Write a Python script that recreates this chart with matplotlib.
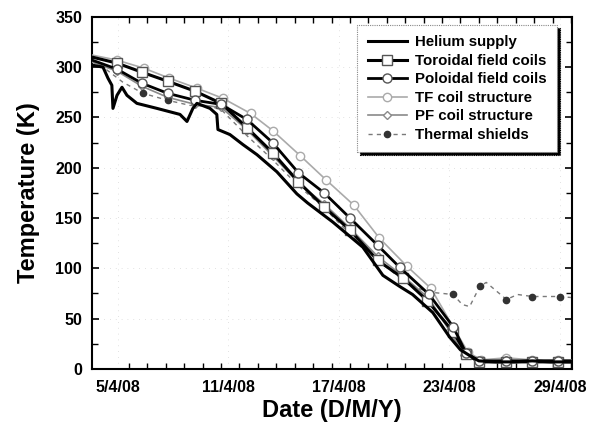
import numpy as np
import matplotlib
matplotlib.use("Agg")
import matplotlib.pyplot as plt

plt.rcParams['font.family'] = ['Liberation Sans', 'DejaVu Sans']
plt.rcParams['font.weight'] = 'bold'

# days are April 2008 day-of-month
he_day = [3.6, 4.19, 4.46, 4.67, 4.73, 4.95, 5.22, 5.49, 6.03, 7.12, 8.37, 8.75, 9.07, 9.29,
          10.0, 10.37, 10.43, 11.08, 11.79, 12.55, 13.63, 14.72, 15.3, 16.67, 18.3, 19.39,
          20.3, 21.0, 22.1, 23.0, 23.6, 24.3, 24.6, 25.5, 26.5, 27.5, 28.5, 29.6]
he_temp = [302, 300, 289, 282, 259, 272, 280, 272, 264, 259, 253, 246, 259, 264,
           259, 253, 238, 233, 223, 213, 196, 174, 165, 146, 121, 93,
           82, 74, 56, 32, 19, 11, 8, 7, 7, 8, 7, 7]

tfc_day = [3.6, 4.95, 6.3, 7.7, 9.2, 10.6, 12.0, 13.4, 14.8, 16.2, 17.6, 19.1, 20.5, 21.8,
           23.2, 23.9, 24.6, 26.1, 27.5, 28.9, 29.6]
tfc_temp = [310, 304, 295, 286, 276, 264, 240, 215, 186, 161, 138, 108, 90, 68,
            37, 15, 7, 7, 7, 7, 7]

pfc_day = [3.6, 4.95, 6.3, 7.7, 9.2, 10.6, 12.0, 13.4, 14.8, 16.2, 17.6, 19.1, 20.3, 21.9,
           23.2, 23.9, 24.6, 26.1, 27.5, 28.9, 29.6]
pfc_temp = [307, 298, 284, 274, 267, 263, 248, 225, 195, 175, 150, 123, 101, 74,
            42, 16, 8, 8, 8, 8, 8]

tfs_day = [3.6, 4.95, 6.4, 7.8, 9.3, 10.7, 12.2, 13.4, 14.9, 16.3, 17.8, 19.2, 20.7, 22.0,
           23.2, 24.0, 24.7, 26.1, 27.5, 28.9, 29.6]
tfs_temp = [312, 307, 299, 289, 279, 269, 254, 237, 212, 188, 163, 130, 102, 80,
            42, 17, 9, 11, 9, 9, 9]

pfs_day = [3.6, 4.95, 6.3, 7.7, 9.2, 10.6, 12.0, 13.4, 14.8, 16.2, 17.6, 19.1, 20.5, 21.9,
           23.0, 23.8, 24.6, 26.1, 27.5, 28.9, 29.6]
pfs_temp = [305, 296, 281, 270, 263, 260, 238, 212, 185, 164, 140, 112, 92, 70,
            38, 14, 7, 9, 7, 7, 7]

ts_day = [3.6, 4.2, 5.27, 6.36, 7.71, 8.91, 10.0, 10.6, 12.0, 13.4, 14.8, 16.2, 17.6, 19.1,
          20.5, 21.3, 22.1, 23.2, 23.7, 24.1, 24.65, 25.0, 26.1, 26.7, 27.5, 29.0, 29.6]
ts_temp = [306, 300, 285, 274, 267, 262, 261, 258, 232, 208, 182, 160, 134, 108,
           88, 80, 76, 74, 64, 62, 82, 86, 69, 74, 72, 72, 71]
ts_marks = [3, 4, 17, 20, 22, 24, 25]

xtick_pos = [5, 11, 17, 23, 29]
xtick_lbl = ['5/4/08', '11/4/08', '17/4/08', '23/4/08', '29/4/08']

fig = plt.figure(figsize=(6.09, 4.32), dpi=100)
ax = fig.add_axes([0.151, 0.146, 0.788, 0.815])

ax.plot(he_day, he_temp, color='black', lw=2.2, label='Helium supply', zorder=5)
ax.plot(tfc_day, tfc_temp, color='black', lw=2.2, marker='s', ms=6.5, mfc='white',
        mec='#555555', mew=1.0, markevery=slice(1, -1), label='Toroidal field coils', zorder=4)
ax.plot(pfc_day, pfc_temp, color='black', lw=2.0, marker='o', ms=6.5, mfc='white',
        mec='#555555', mew=1.0, markevery=slice(1, -1), label='Poloidal field coils', zorder=4)
ax.plot(tfs_day, tfs_temp, color='#aaaaaa', lw=1.2, marker='o', ms=6, mfc='white',
        mec='#aaaaaa', mew=1.0, markevery=slice(1, -1), label='TF coil structure', zorder=3)
ax.plot(pfs_day, pfs_temp, color='#8a8a8a', lw=1.2, marker='D', ms=4.5, mfc='white',
        mec='#8a8a8a', mew=1.0, markevery=slice(1, -1), label='PF coil structure', zorder=3)
ax.plot(ts_day, ts_temp, color='#7a7a7a', lw=1.0, ls=(0, (3, 3)), marker='o', ms=4.5,
        mfc='#333333', mec='#333333', markevery=ts_marks, label='Thermal shields', zorder=3)

ax.set_xlim(3.59, 29.65)
ax.set_ylim(0, 350)
ax.set_xticks(xtick_pos)
ax.set_xticklabels(xtick_lbl)
ax.set_xticks(np.arange(5.6, 29.7, 1.0), minor=True)
ax.set_yticks(np.arange(0, 351, 50))
ax.set_yticks(np.arange(25, 350, 50), minor=True)
ax.tick_params(axis='x', which='major', length=0, pad=8, labelsize=11.5)
ax.tick_params(axis='y', which='major', length=5, width=1.2, pad=7, labelsize=11.5)
ax.tick_params(which='both', direction='in', top=True, right=True)
ax.tick_params(which='minor', length=4, width=1.0)
for s in ax.spines.values():
    s.set_linewidth(1.5)

ax.grid(True, which='major', color='#d8d8d8', lw=0.6, ls=(0, (1, 6)))

ax.set_xlabel('Date (D/M/Y)', fontsize=17, fontweight='bold', labelpad=3)
ax.set_ylabel('Temperature (K)', fontsize=17, fontweight='bold')
ax.yaxis.set_label_coords(-0.108, 0.5)

leg = ax.legend(loc='upper right', bbox_to_anchor=(0.969, 0.977), borderaxespad=0,
                handlelength=2.6, labelspacing=0.3, handletextpad=0.55, borderpad=0.7,
                fancybox=False, shadow={'color': 'black', 'alpha': 1.0}, framealpha=1,
                edgecolor='#888888', prop={'weight': 'bold', 'size': 10.8})
leg.get_frame().set_linestyle((0, (1, 1)))
leg.get_frame().set_linewidth(0.8)

fig.savefig('out.png', dpi=100)
